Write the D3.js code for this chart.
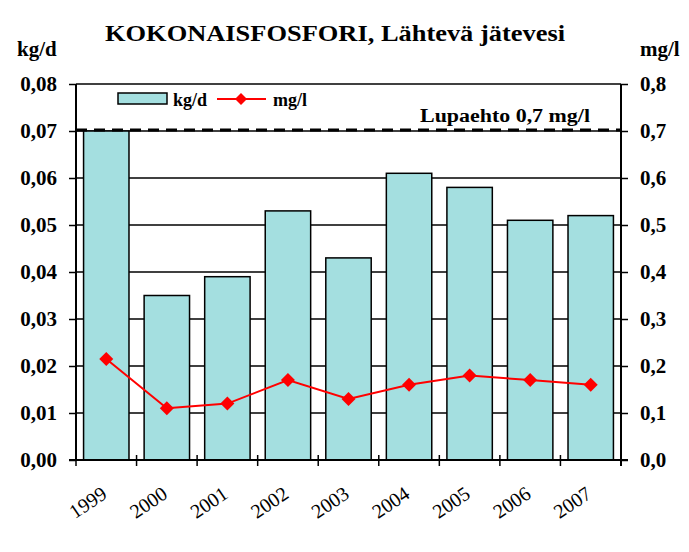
<!DOCTYPE html>
<html><head><meta charset="utf-8">
<script src="https://cdn.jsdelivr.net/npm/d3@7/dist/d3.min.js"></script>
<style>body{margin:0;background:#fff}svg{display:block}</style>
</head><body>
<script>
const years = ["1999","2000","2001","2002","2003","2004","2005","2006","2007"];
const kgd = [0.070, 0.035, 0.039, 0.053, 0.043, 0.061, 0.058, 0.051, 0.052];
const mgl = [0.215, 0.11, 0.12, 0.17, 0.13, 0.16, 0.18, 0.17, 0.16];
const leftTicks = [0,0.01,0.02,0.03,0.04,0.05,0.06,0.07,0.08];
const rightTicks = [0,0.1,0.2,0.3,0.4,0.5,0.6,0.7,0.8];
const limit = 0.7;
const titleText = "KOKONAISFOSFORI,  Lähtevä jätevesi";
const limitText = "Lupaehto 0,7 mg/l";

const FF="Liberation Serif";
const W=689,H=552, L=76, R=621, T=84, B=460;
const svg=d3.select("body").append("svg").attr("width",W).attr("height",H).style("font-family",FF);
const x=d3.scaleBand().domain(years).range([L,R]).paddingInner(0.25).paddingOuter(0.125);
const y=d3.scaleLinear().domain([0,0.08]).range([B,T]);
const y2=d3.scaleLinear().domain([0,0.8]).range([B,T]);
const fmt2=d=>d3.format(".2f")(d).replace(".",",");
const fmt1=d=>d3.format(".1f")(d).replace(".",",");

// gridlines
svg.append("g").selectAll("line").data(leftTicks.slice(1)).join("line")
  .attr("x1",L).attr("x2",R).attr("y1",d=>y(d)).attr("y2",d=>y(d))
  .attr("stroke","#000").attr("stroke-width",1.5);

// bars
svg.append("g").selectAll("rect").data(years).join("rect")
  .attr("x",d=>x(d)).attr("width",x.bandwidth())
  .attr("y",(d,i)=>y(kgd[i])).attr("height",(d,i)=>B-y(kgd[i]))
  .attr("fill","#a4dfe0").attr("stroke","#000").attr("stroke-width",1.5);

// limit dashed line
svg.append("line").attr("x1",L).attr("x2",R).attr("y1",y2(limit)-1).attr("y2",y2(limit)-1)
  .attr("stroke","#000").attr("stroke-width",3).attr("stroke-dasharray","11,7");
svg.append("text").attr("x",590).attr("y",122).attr("text-anchor","end")
  .style("font-family",FF).style("font-weight","bold").style("font-size","18px")
  .attr("textLength",170).attr("lengthAdjust","spacingAndGlyphs")
  .text(limitText);

// axes
const leftAxis=d3.axisLeft(y).tickValues(leftTicks).tickFormat(fmt2).tickSize(7).tickPadding(12);
const gl=svg.append("g").attr("transform",`translate(${L},0)`).call(leftAxis);
const rightAxis=d3.axisRight(y2).tickValues(rightTicks).tickFormat(fmt1).tickSize(7).tickPadding(12);
const gr=svg.append("g").attr("transform",`translate(${R},0)`).call(rightAxis);
[gl,gr].forEach(g=>{
  g.attr("font-family",null).attr("font-size",null);
  g.selectAll(".tick line").attr("stroke","#000").attr("stroke-width",1.5);
  g.selectAll(".tick text").style("font-family",FF).style("font-weight","bold").style("font-size","21px").attr("fill","#000");
  g.select(".domain").remove();
});
svg.append("line").attr("x1",L).attr("x2",L).attr("y1",T).attr("y2",B).attr("stroke","#000").attr("stroke-width",2);
svg.append("line").attr("x1",R).attr("x2",R).attr("y1",T).attr("y2",B+6).attr("stroke","#000").attr("stroke-width",2);
svg.append("line").attr("x1",L-7).attr("x2",R+7).attr("y1",B).attr("y2",B).attr("stroke","#000").attr("stroke-width",2);

// x ticks at category boundaries
const bounds=years.map(d=>x(d)-x.step()*x.paddingInner()/2).concat([R]);
bounds[0]=L;
svg.append("g").selectAll("line").data(bounds).join("line")
  .attr("x1",d=>d).attr("x2",d=>d).attr("y1",B-5).attr("y2",B+6)
  .attr("stroke","#000").attr("stroke-width",1.5);

// x labels
svg.append("g").selectAll("text").data(years).join("text")
  .attr("transform",d=>`translate(${x(d)+x.bandwidth()/2+2},497) rotate(-34)`)
  .attr("text-anchor","end").style("font-family",FF).style("font-size","20px").text(d=>d);

// line
const lineGen=d3.line().x((d,i)=>x(years[i])+x.bandwidth()/2).y(d=>y2(d));
svg.append("path").datum(mgl).attr("d",lineGen).attr("fill","none").attr("stroke","#ff0000").attr("stroke-width",2);
const diamond="M0,-7L7,0L0,7L-7,0Z";
svg.append("g").selectAll("path").data(mgl).join("path")
  .attr("transform",(d,i)=>`translate(${x(years[i])+x.bandwidth()/2},${y2(d)})`)
  .attr("d",diamond).attr("fill","#ff0000");

// legend
svg.append("rect").attr("x",118).attr("y",93).attr("width",49).attr("height",11)
  .attr("fill","#a4dfe0").attr("stroke","#000").attr("stroke-width",1.5);
svg.append("text").attr("x",173).attr("y",106).style("font-family",FF).style("font-weight","bold").style("font-size","18px").text("kg/d");
svg.append("line").attr("x1",217).attr("x2",266).attr("y1",99).attr("y2",99).attr("stroke","#ff0000").attr("stroke-width",2);
svg.append("path").attr("transform","translate(241,99)").attr("d","M0,-6L6,0L0,6L-6,0Z").attr("fill","#ff0000");
svg.append("text").attr("x",273).attr("y",106).style("font-family",FF).style("font-weight","bold").style("font-size","18px").text("mg/l");

// titles
svg.append("text").attr("x",335).attr("y",41).attr("text-anchor","middle")
  .style("font-family",FF).style("font-weight","bold").style("font-size","24px")
  .attr("textLength",460).attr("lengthAdjust","spacingAndGlyphs")
  .text(titleText);
svg.append("text").attr("x",17).attr("y",56).style("font-family",FF).style("font-weight","bold").style("font-size","21px").text("kg/d");
svg.append("text").attr("x",640).attr("y",56).style("font-family",FF).style("font-weight","bold").style("font-size","21px").text("mg/l");
</script>
</body></html>
